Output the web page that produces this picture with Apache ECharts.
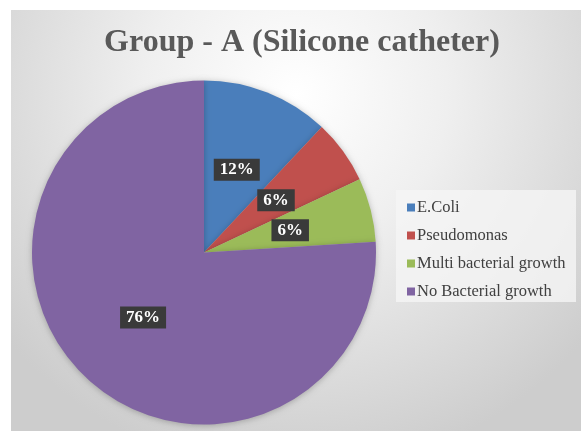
<!DOCTYPE html>
<html>
<head>
<meta charset="utf-8">
<script src="https://cdn.jsdelivr.net/npm/echarts@6/dist/echarts.min.js"></script>
<style>
html,body{margin:0;padding:0;background:#ffffff;}
#chart{width:581px;height:431px;}
</style>
</head>
<body>
<div id="chart"></div>
<script>
const titleText = 'Group - A (Silicone catheter)';
const categories = ['E.Coli', 'Pseudomonas', 'Multi bacterial growth', 'No Bacterial growth'];
const values = [12, 6, 6, 76];
const colors = ['#4a7ebb', '#c0504d', '#9bbb59', '#8064a2'];

const chart = echarts.init(document.getElementById('chart'), null, {renderer: 'canvas'});
const serif = '"Liberation Serif", "DejaVu Serif", serif';

const option = {
  animation: false,
  graphic: [{
    type: 'rect',
    z: -10,
    shape: {x: 11, y: 10, width: 570, height: 421},
    style: {
      fill: new echarts.graphic.RadialGradient(0.5, 0.2, 0.9, [
        {offset: 0, color: '#ffffff'},
        {offset: 0.4, color: '#efefef'},
        {offset: 1, color: '#cdcdcd'}
      ])
    }
  }, {
    type: 'rect',
    z: -5,
    shape: {x: 396, y: 190, width: 180, height: 112},
    style: {fill: 'rgba(245,245,245,0.8)'}
  }],
  title: {
    text: titleText,
    left: 297,
    textAlign: 'center',
    top: 22,
    textStyle: {
      fontFamily: serif,
      fontWeight: 'bold',
      fontSize: 32,
      color: '#595959'
    }
  },
  legend: {
    orient: 'vertical',
    left: 402,
    top: 194,
    itemWidth: 8,
    itemHeight: 8,
    itemGap: 11,
    icon: 'rect',
    textStyle: {fontFamily: serif, fontSize: 16.5, color: '#404040', padding: [0, 0, 0, -3]},
    data: categories
  },
  series: [{
    type: 'pie',
    center: [204, 252.5],
    radius: 172,
    startAngle: 90,
    clockwise: true,
    avoidLabelOverlap: false,
    itemStyle: {
      borderWidth: 0,
      shadowBlur: 6,
      shadowColor: 'rgba(0,0,0,0.25)',
      shadowOffsetY: 1
    },
    label: {
      show: true,
      position: 'inside',
      formatter: '{c}%',
      fontFamily: serif,
      fontWeight: 'bold',
      fontSize: 17,
      color: '#ffffff',
      backgroundColor: '#3a3a3a',
      padding: [3, 6, 2, 6]
    },
    labelLine: {show: false},
    data: categories.map((c, i) => ({name: c, value: values[i], itemStyle: {color: colors[i]}}))
  }]
};
chart.setOption(option);
</script>
</body>
</html>
